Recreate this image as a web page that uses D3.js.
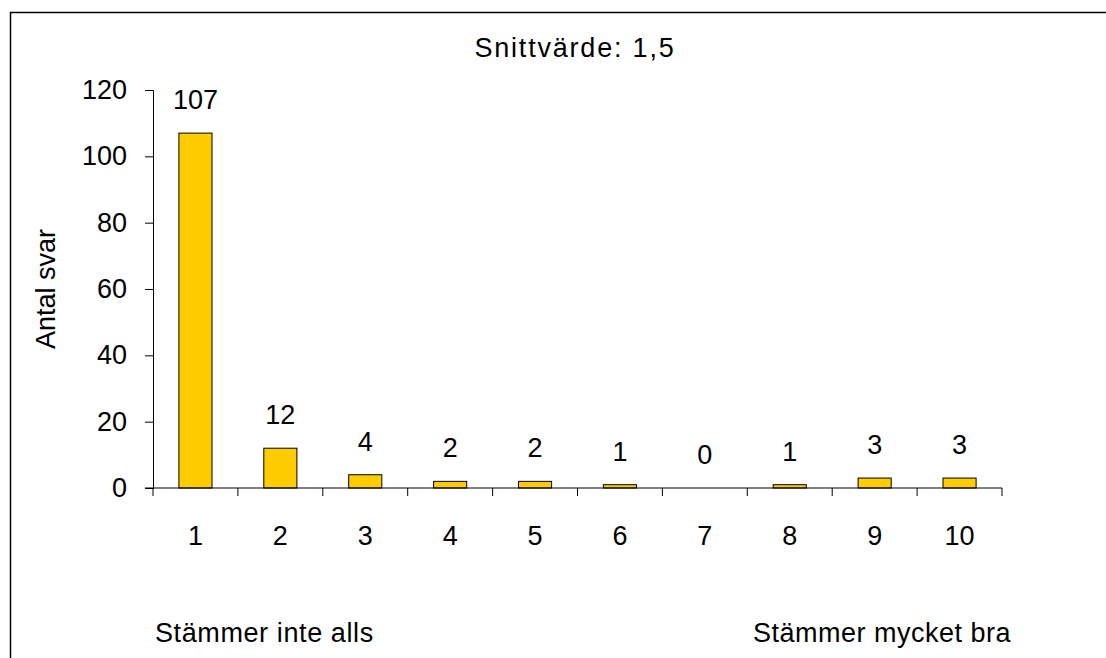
<!DOCTYPE html>
<html lang="sv">
<head>
<meta charset="UTF-8">
<title>Snittvärde</title>
<script src="https://d3js.org/d3.v7.min.js"></script>
<style>
  body { margin: 0; background: #fff; }
  text { font-family: "Liberation Sans", Arial, sans-serif; fill: #000; }
</style>
</head>
<body>
<div id="chart"></div>
<script>
// data
var categories = ["1", "2", "3", "4", "5", "6", "7", "8", "9", "10"];
var counts = [107, 12, 4, 2, 2, 1, 0, 1, 3, 3];
var yTicks = [0, 20, 40, 60, 80, 100, 120];
var title = "Snittvärde: 1,5";
var yLabel = "Antal svar";
var lowLabel = "Stämmer inte alls";
var highLabel = "Stämmer mycket bra";

var W = 1106, H = 658;
var margin = {top: 90, left: 153};
var fs = "27px";

var svg = d3.select("#chart").append("svg")
    .attr("width", W).attr("height", H);

// outer frame (runs past right and bottom edge)
svg.append("rect")
    .attr("x", 10.5).attr("y", 12.5)
    .attr("width", W).attr("height", H)
    .attr("fill", "none").attr("stroke", "#000").attr("stroke-width", 1.5);

var g = svg.append("g").attr("transform", "translate(" + margin.left + "," + margin.top + ")");

var x = d3.scaleBand().domain(categories).range([0, 849]).padding(0);
var y = d3.scaleLinear().domain([0, 120]).range([398, 0]);

// bars
var bw = x.bandwidth() * 0.39;
g.selectAll("rect.bar").data(counts).enter().append("rect")
    .attr("class", "bar")
    .attr("x", function(d, i) { return x(categories[i]) + x.bandwidth() / 2 - bw / 2; })
    .attr("y", function(d) { return y(d); })
    .attr("width", bw)
    .attr("height", function(d) { return y(0) - y(d); })
    .attr("fill", "#FFCC00").attr("stroke", "#000").attr("stroke-width", 1);

// value labels
g.selectAll("text.val").data(counts).enter().append("text")
    .attr("class", "val")
    .attr("x", function(d, i) { return x(categories[i]) + x.bandwidth() / 2; })
    .attr("y", function(d) { return y(d) - 24; })
    .attr("text-anchor", "middle")
    .style("font-size", fs)
    .text(function(d) { return d; });

// y axis
var yAxis = g.append("g")
    .call(d3.axisLeft(y).tickValues(yTicks).tickSize(8).tickPadding(18));
yAxis.select(".domain").attr("stroke", "#000");
yAxis.selectAll("text").style("font-size", fs);

// x axis: ticks at category boundaries
var bounds = categories.map(function(c) { return x(c); }).concat([x.range()[1]]);
var xg = g.append("g").attr("transform", "translate(0," + y(0) + ")");
xg.append("line").attr("x1", -8).attr("x2", 849).attr("stroke", "#000");
xg.selectAll("line.tk").data(bounds).enter().append("line")
    .attr("class", "tk")
    .attr("x1", function(d) { return d; }).attr("x2", function(d) { return d; })
    .attr("y1", 0).attr("y2", 8).attr("stroke", "#000");
xg.selectAll("text").data(categories).enter().append("text")
    .attr("x", function(d) { return x(d) + x.bandwidth() / 2; })
    .attr("y", 57)
    .attr("text-anchor", "middle")
    .style("font-size", fs)
    .text(function(d) { return d; });

// title
svg.append("text").attr("x", 575).attr("y", 57)
    .attr("text-anchor", "middle").style("font-size", fs)
    .style("letter-spacing", "1.8px").text(title);

// y label
svg.append("text")
    .attr("transform", "translate(55,289) rotate(-90)")
    .attr("text-anchor", "middle").style("font-size", fs).text(yLabel);

// scale end labels
svg.append("text").attr("x", 155).attr("y", 642).style("font-size", fs)
    .style("letter-spacing", "0.6px").text(lowLabel);
svg.append("text").attr("x", 753).attr("y", 642).style("font-size", fs)
    .style("letter-spacing", "0.5px").text(highLabel);
</script>
</body>
</html>
